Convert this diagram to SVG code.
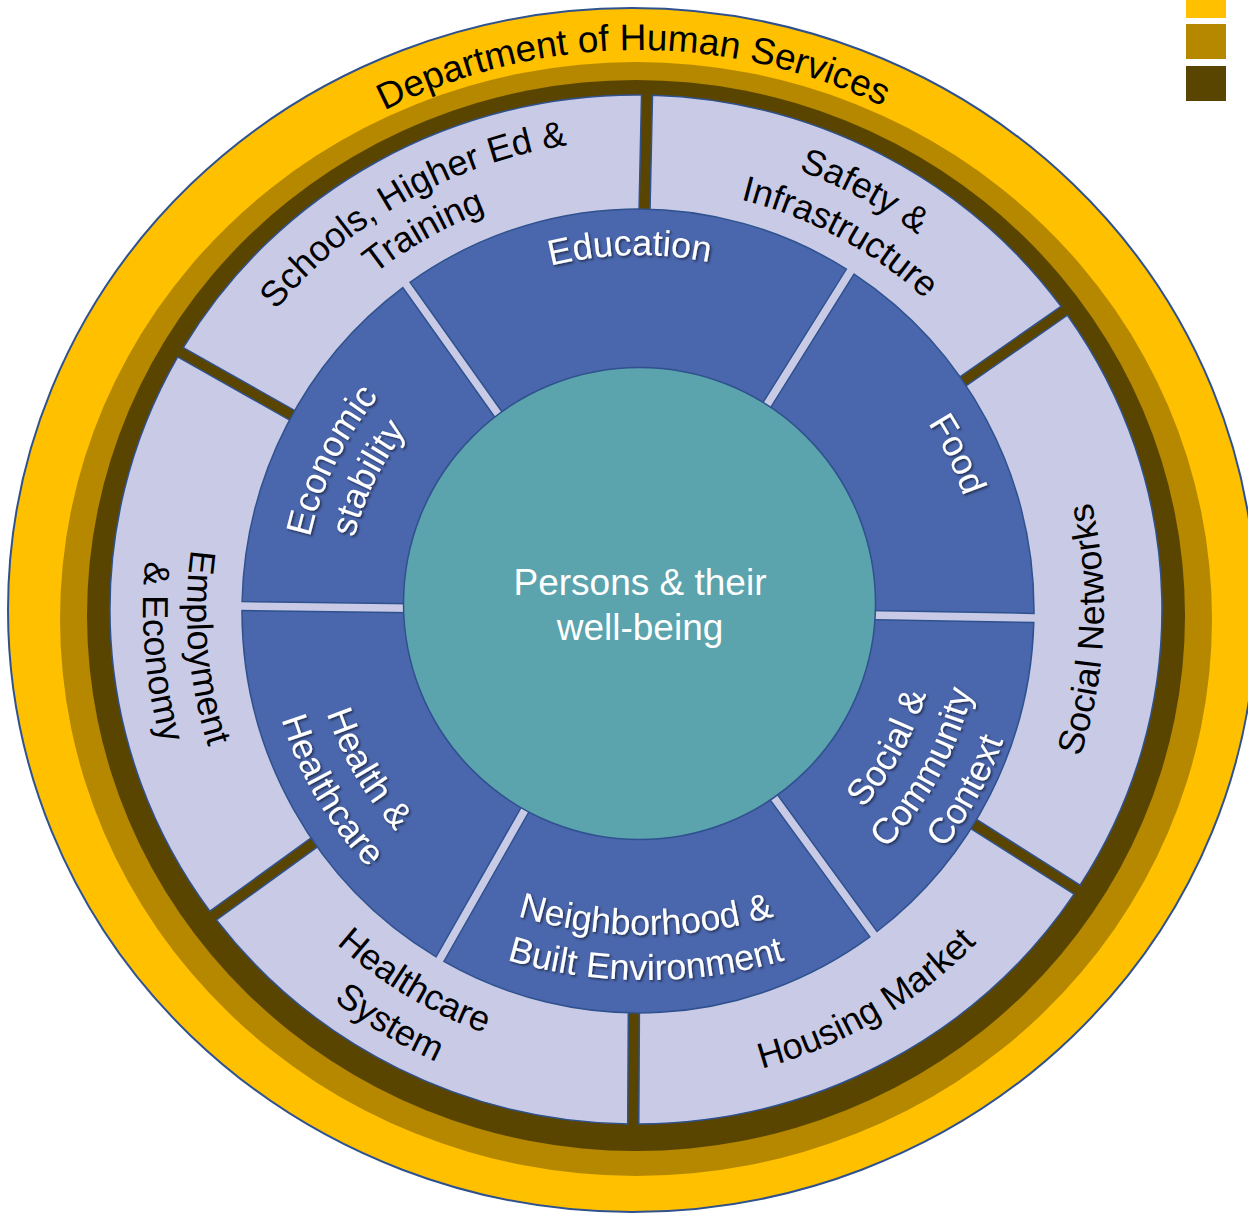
<svg xmlns="http://www.w3.org/2000/svg" width="1248" height="1214" viewBox="0 0 1248 1214">
  <defs>
    <style>
      .lbl { font-family: "Liberation Sans", Arial, sans-serif; font-size: 36px; }
      .big { font-size: 37px; }
      .dark { fill: #000000; }
      .light { fill: #ffffff; }
      .lav { fill: #C9CBE6; stroke: #2F528F; stroke-width: 1.5; stroke-linejoin: miter; }
      .blue { fill: #4A66AC; stroke: #2F528F; stroke-width: 1.5; }
      .guide { fill: none; stroke: none; }
    </style>
    <filter id="shadow" x="-15%" y="-15%" width="130%" height="130%">
      <feDropShadow dx="1.6" dy="1.6" stdDeviation="1.2" flood-color="#000000" flood-opacity="0.55"/>
    </filter>

    <!-- baseline guides for curved labels (centre 638,610) -->
    <path id="p-dept" class="guide" d="M150.6,334.3 A560,560 0 0 1 1120.5,325.8"/>
    <path id="p-schools1" class="guide" d="M168,605.9 A470,470 0 0 1 876.5,205"/>
    <path id="p-schools2" class="guide" d="M211,606.3 A427,427 0 0 1 854.7,242.1"/>
    <path id="p-safety1" class="guide" d="M392.8,211.4 A468,468 0 0 1 1105.8,596.9"/>
    <path id="p-safety2" class="guide" d="M416.3,249.7 A423,423 0 0 1 1060.8,598.2"/>
    <path id="p-social" class="guide" d="M853.1,1023.4 A466,466 0 0 0 888.4,217"/>
    <path id="p-housing" class="guide" d="M402.6,1022.6 A475,475 0 0 0 1113,607.5"/>
    <path id="p-hcs1" class="guide" d="M188.1,602.1 A450,450 0 0 0 856.2,1003.6"/>
    <path id="p-hcs2" class="guide" d="M143.1,601.3 A495,495 0 0 0 878,1042.9"/>
    <path id="p-emp1" class="guide" d="M379.3,240.5 A451,451 0 0 0 447.4,1018.7"/>
    <path id="p-emp2" class="guide" d="M354.1,204.5 A495,495 0 0 0 428.8,1058.6"/>
    <path id="p-edu" class="guide" d="M326.6,439.6 A355,355 0 0 1 941.3,425.6"/>
    <path id="p-food" class="guide" d="M662.1,265.8 A345,345 0 0 1 924,802.9"/>
    <path id="p-scc1" class="guide" d="M644.3,909.9 A300,300 0 0 0 894.6,454.6"/>
    <path id="p-scc2" class="guide" d="M645.2,953.9 A344,344 0 0 0 932.3,431.8"/>
    <path id="p-scc3" class="guide" d="M646.1,997.9 A388,388 0 0 0 969.9,409"/>
    <path id="p-nbe1" class="guide" d="M260.6,712.5 A445,445 0 0 0 1031.4,712.5"/>
    <path id="p-nbe2" class="guide" d="M221.6,735 A490,490 0 0 0 1070.4,735"/>
    <path id="p-hh1" class="guide" d="M352.8,448 A328,328 0 0 0 640.3,938"/>
    <path id="p-hh2" class="guide" d="M313.7,425.8 A373,373 0 0 0 640.6,983"/>
    <path id="p-eco1" class="guide" d="M359.5,797.9 A336,336 0 0 1 614.5,274.8"/>
    <path id="p-eco2" class="guide" d="M395.1,773.8 A293,293 0 0 1 617.5,317.7"/>
  </defs>

  <!-- outer bands -->
  <g id="ring-department">
    <ellipse cx="632" cy="610" rx="624" ry="602" fill="#FFC000" stroke="#2F528F" stroke-width="2"/>
  </g>
  <g id="ring-middle">
    <ellipse cx="636" cy="619" rx="576" ry="557" fill="#B58800"/>
  </g>
  <g id="ring-inner">
    <ellipse cx="636" cy="615.5" rx="549" ry="535.5" fill="#5A4500"/>
  </g>
  <g id="ring-department-label">
    <text class="lbl big dark" text-anchor="middle"><textPath href="#p-dept" startOffset="50%">Department of Human Services</textPath></text>
  </g>

  <!-- outer sectors (systems) -->
  <g id="sector-schools">
    <path class="lav" d="M630.7,600.1 L183.3,347.6 A526,514.5 0 0 1 641.5,95 Z"/>
    <text class="lbl dark" text-anchor="middle"><textPath href="#p-schools1" startOffset="50%">Schools, Higher Ed &amp;</textPath></text>
    <text class="lbl dark" text-anchor="middle"><textPath href="#p-schools2" startOffset="50%">Training</textPath></text>
  </g>
  <g id="sector-safety">
    <path class="lav" d="M641.7,598.6 L652.5,95.2 A526,514.5 0 0 1 1061,306.4 Z"/>
    <text class="lbl dark" text-anchor="middle"><textPath href="#p-safety1" startOffset="50%">Safety &amp;</textPath></text>
    <text class="lbl dark" text-anchor="middle"><textPath href="#p-safety2" startOffset="50%">Infrastructure</textPath></text>
  </g>
  <g id="sector-social-networks">
    <path class="lav" d="M645.8,609.3 L1067.4,315.2 A526,514.5 0 0 1 1080.1,885.2 Z"/>
    <text class="lbl dark" text-anchor="middle"><textPath href="#p-social" startOffset="50%">Social Networks</textPath></text>
  </g>
  <g id="sector-housing">
    <path class="lav" d="M641.5,619.6 L1074.1,894.2 A526,514.5 0 0 1 638.8,1124 Z"/>
    <text class="lbl dark" text-anchor="middle"><textPath href="#p-housing" startOffset="50%">Housing Market</textPath></text>
  </g>
  <g id="sector-healthcare-system">
    <path class="lav" d="M630.4,620.5 L627.7,1123.9 A526,514.5 0 0 1 216.5,919.9 Z"/>
    <text class="lbl dark" text-anchor="middle"><textPath href="#p-hcs1" startOffset="50%">Healthcare</textPath></text>
    <text class="lbl dark" text-anchor="middle"><textPath href="#p-hcs2" startOffset="50%">System</textPath></text>
  </g>
  <g id="sector-employment">
    <path class="lav" d="M626,610.1 L209.9,911.2 A526,514.5 0 0 1 177.7,356.9 Z"/>
    <text class="lbl dark" text-anchor="middle"><textPath href="#p-emp1" startOffset="50%">Employment</textPath></text>
    <text class="lbl dark" text-anchor="middle"><textPath href="#p-emp2" startOffset="50%">&amp; Economy</textPath></text>
  </g>

  <!-- inner sectors (determinants) -->
  <g id="domain-education">
    <path class="blue" d="M637.8,603 L410,282.3 A396,402 0 0 1 846.4,269.1 Z"/>
    <text class="lbl light" text-anchor="middle" filter="url(#shadow)"><textPath href="#p-edu" startOffset="50%">Education</textPath></text>
  </g>
  <g id="domain-food">
    <path class="blue" d="M646.1,606.6 L854.1,274.1 A396,402 0 0 1 1034,613.4 Z"/>
    <text class="lbl light" text-anchor="middle" filter="url(#shadow)"><textPath href="#p-food" startOffset="50%">Food</textPath></text>
  </g>
  <g id="domain-social-community">
    <path class="blue" d="M647.1,615.7 L1033.8,622.6 A396,402 0 0 1 877,931.5 Z"/>
    <g filter="url(#shadow)">
      <text class="lbl light" text-anchor="middle"><textPath href="#p-scc1" startOffset="50%">Social &amp;</textPath></text>
      <text class="lbl light" text-anchor="middle"><textPath href="#p-scc2" startOffset="50%">Community</textPath></text>
      <text class="lbl light" text-anchor="middle"><textPath href="#p-scc3" startOffset="50%">Context</textPath></text>
    </g>
  </g>
  <g id="domain-neighborhood">
    <path class="blue" d="M638.5,619.2 L869.8,936.9 A396,402 0 0 1 443.9,961.4 Z"/>
    <g filter="url(#shadow)">
      <text class="lbl light" text-anchor="middle"><textPath href="#p-nbe1" startOffset="50%">Neighborhood &amp;</textPath></text>
      <text class="lbl light" text-anchor="middle"><textPath href="#p-nbe2" startOffset="50%">Built Environment</textPath></text>
    </g>
  </g>
  <g id="domain-health">
    <path class="blue" d="M630.3,615.4 L436.1,956.8 A396,402 0 0 1 242,610.6 Z"/>
    <g filter="url(#shadow)">
      <text class="lbl light" text-anchor="middle"><textPath href="#p-hh1" startOffset="50%">Health &amp;</textPath></text>
      <text class="lbl light" text-anchor="middle"><textPath href="#p-hh2" startOffset="50%">Healthcare</textPath></text>
    </g>
  </g>
  <g id="domain-economic">
    <path class="blue" d="M629.1,606.4 L242.1,601.5 A396,402 0 0 1 402.8,287.6 Z"/>
    <g filter="url(#shadow)">
      <text class="lbl light" text-anchor="middle"><textPath href="#p-eco1" startOffset="50%">Economic</textPath></text>
      <text class="lbl light" text-anchor="middle"><textPath href="#p-eco2" startOffset="50%">stability</textPath></text>
    </g>
  </g>

  <!-- core -->
  <g id="core-persons">
    <circle cx="639.5" cy="603.5" r="236" fill="#5BA3AD" stroke="#2F528F" stroke-width="1.5"/>
    <text class="lbl big light" text-anchor="middle" x="640" y="595">Persons &amp; their</text>
    <text class="lbl big light" text-anchor="middle" x="640" y="640">well-being</text>
  </g>

  <!-- colour key -->
  <g id="legend">
    <rect x="1186" y="-17" width="40" height="35" fill="#FFC000"/>
    <rect x="1186" y="24" width="40" height="35" fill="#B58800"/>
    <rect x="1186" y="66" width="40" height="35" fill="#5A4500"/>
  </g>
</svg>
